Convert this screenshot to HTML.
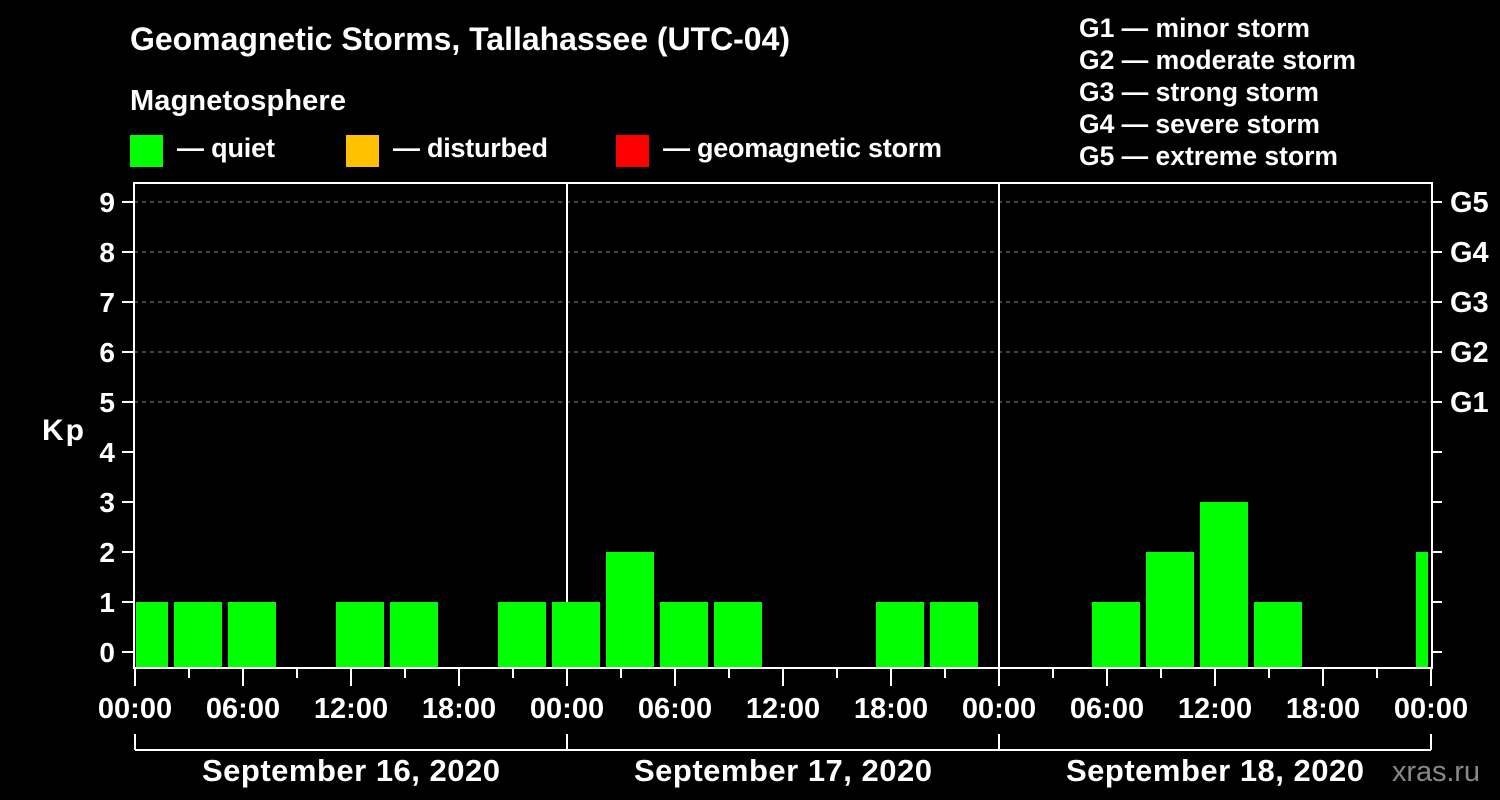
<!DOCTYPE html>
<html><head><meta charset="utf-8"><style>
body{margin:0;background:#000;width:1500px;height:800px;overflow:hidden}
svg{display:block;font-family:"Liberation Sans",Arial,sans-serif;font-weight:bold;fill:#fff}
</style></head><body>
<svg id="c" width="1500" height="800">
<text x="130" y="50" font-size="32" textLength="660">Geomagnetic Storms, Tallahassee (UTC-04)</text>
<text x="130" y="110" font-size="29" textLength="216">Magnetosphere</text>
<rect x="130" y="135" width="33" height="32" fill="#00ff00"/>
<text x="177" y="157" font-size="27" textLength="98">— quiet</text>
<rect x="346" y="135" width="33" height="32" fill="#ffc000"/>
<text x="393" y="157" font-size="27" textLength="155">— disturbed</text>
<rect x="616" y="135" width="33" height="32" fill="#ff0000"/>
<text x="663" y="157" font-size="27" textLength="279">— geomagnetic storm</text>
<g font-size="26.5">
<text x="1079" y="37" textLength="231">G1 — minor storm</text>
<text x="1079" y="69" textLength="277">G2 — moderate storm</text>
<text x="1079" y="101" textLength="240">G3 — strong storm</text>
<text x="1079" y="133" textLength="241">G4 — severe storm</text>
<text x="1079" y="165" textLength="259">G5 — extreme storm</text>
</g>
<text x="42" y="440" font-size="30" textLength="42">Kp</text>
<text x="1392" y="781" font-size="29" fill="#888" style="font-weight:normal" textLength="88">xras.ru</text>
<g id="plot"></g>
</svg>
<script>
const kpValues=[1,1,1,0,1,1,0,1,1,2,1,1,0,0,1,1,0,0,1,2,3,1,0,0,2];
const yTicks=[0,1,2,3,4,5,6,7,8,9];
const gLabels=["G1","G2","G3","G4","G5"];
const xTickLabels=["00:00","06:00","12:00","18:00","00:00","06:00","12:00","18:00","00:00","06:00","12:00","18:00","00:00"];
const dayLabels=["September 16, 2020","September 17, 2020","September 18, 2020"];
const firstBinStart=-1;
const NS="http://www.w3.org/2000/svg";
const g=document.getElementById('plot');
const L=134,R=1432,T=183,B=668;
const X=h=>135+18*h;
const Y=k=>652-50*k;
function mk(t,a,txt){const e=document.createElementNS(NS,t);for(const k in a)e.setAttribute(k,a[k]);if(txt!==undefined)e.textContent=txt;g.appendChild(e);return e;}
for(let k=5;k<=9;k++){
 const e=mk('line',{x1:L,x2:R,y1:Y(k),y2:Y(k),stroke:'#888','stroke-dasharray':'4,4','stroke-width':1});
 
 
}
[1,2].forEach(d=>{
 const e=mk('line',{x1:X(24*d),x2:X(24*d),y1:T,y2:B,stroke:'#fff','stroke-width':2});
 
 
});
kpValues.forEach((v,i)=>{
 if(v<=0)return;
 const s=firstBinStart+3*i;
 let x0=Math.max(X(s)+3,136),x1=Math.min(X(s+3)-3,1428);
 const col=v>=5?'#ff0000':(v>=4?'#ffc000':'#00ff00');
 const e=mk('rect',{x:x0,y:Y(v),width:x1-x0,height:B-Y(v),fill:col});
 
 
});
const fr=mk('rect',{x:L,y:T,width:R-L,height:B-T,fill:'none',stroke:'#fff','stroke-width':2});


yTicks.forEach(k=>{
 mk('line',{x1:122,x2:L,y1:Y(k),y2:Y(k),stroke:'#fff','stroke-width':2});
 mk('line',{x1:R,x2:1442,y1:Y(k),y2:Y(k),stroke:'#fff','stroke-width':2});
 const t=mk('text',{x:115,y:Y(k)+10,'font-size':28,'text-anchor':'end'},String(k));
 
 
});
gLabels.forEach((s,i)=>{
 const t=mk('text',{x:1450,y:Y(5+i)+10,'font-size':29},s);
 
 
});
for(let h=0;h<=72;h+=3){
 const major=h%6===0;
 mk('line',{x1:X(h),x2:X(h),y1:B,y2:major?686:678,stroke:'#fff','stroke-width':2});
}
xTickLabels.forEach((s,i)=>{
 const t=mk('text',{x:X(6*i),y:718,'font-size':29,'text-anchor':'middle'},s);
 
 
});
mk('line',{x1:X(0),x2:X(72),y1:750,y2:750,stroke:'#fff','stroke-width':2});
for(let d=0;d<=3;d++)mk('line',{x1:X(24*d),x2:X(24*d),y1:734,y2:750,stroke:'#fff','stroke-width':2});
dayLabels.forEach((s,i)=>{
 const t=mk('text',{x:X(24*i+12),y:781,'font-size':31,'text-anchor':'middle',textLength:298},s);
 
 
});
</script>
</body></html>
